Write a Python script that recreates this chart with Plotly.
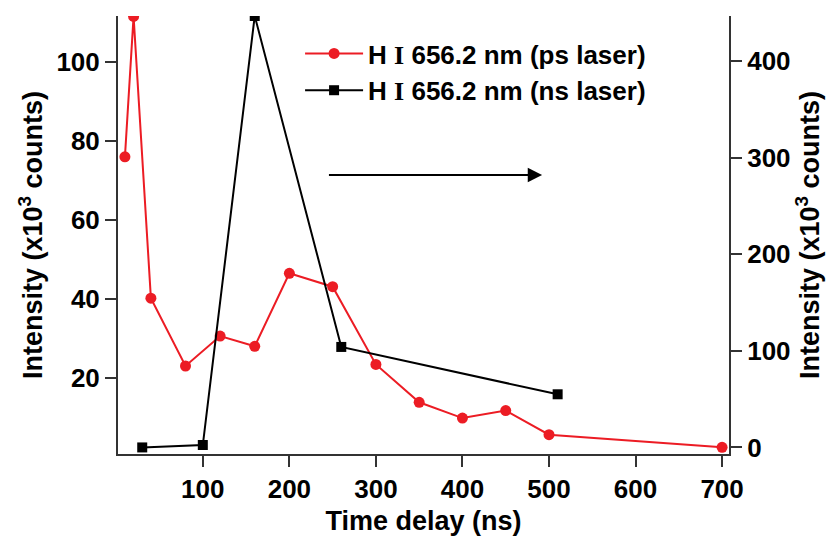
import plotly.graph_objects as go

# Data
ps_delay = [10, 20, 40, 80, 120, 160, 200, 250, 300, 350, 400, 450, 500, 700]
ps_intensity = [76, 111.6, 40.2, 23, 30.6, 28, 46.5, 43.1, 23.4, 13.8, 9.8, 11.7, 5.6, 2.4]

ns_delay = [30, 100, 160, 260, 510]
ns_intensity = [0, 2.5, 446.5, 104, 55]

x_ticks = [100, 200, 300, 400, 500, 600, 700]
y1_ticks = [20, 40, 60, 80, 100]
y2_ticks = [0, 100, 200, 300, 400]

RED = "rgb(236,28,36)"
AXC = "#333333"
FONT = "Liberation Sans"
I_SERIF = "<span style='font-family:Liberation Serif'>I</span>"

fig = go.Figure()
fig.add_trace(go.Scatter(
    x=ps_delay, y=ps_intensity, mode="lines+markers",
    name="H " + I_SERIF + " 656.2 nm (ps laser)",
    line=dict(color=RED, width=2),
    marker=dict(color=RED, size=11, symbol="circle"),
    yaxis="y",
))
fig.add_trace(go.Scatter(
    x=ns_delay, y=ns_intensity, mode="lines+markers",
    name="H " + I_SERIF + " 656.2 nm (ns laser)",
    line=dict(color="black", width=2),
    marker=dict(color="black", size=10, symbol="square"),
    yaxis="y2",
))

# arrow pointing to the right axis
fig.add_annotation(
    x=492, y=71.4, ax=244, ay=71.4,
    xref="x", yref="y", axref="x", ayref="y",
    showarrow=True, arrowhead=2, arrowsize=1.3, arrowwidth=2.2,
    arrowcolor="black", text="",
)

fig.update_layout(
    width=838, height=539,
    margin=dict(l=118, r=109, t=16, b=85),
    paper_bgcolor="white", plot_bgcolor="white",
    font=dict(family=FONT, size=26, color="black", weight="bold"),
    showlegend=True,
    legend=dict(
        x=0.298, y=0.968, xanchor="left", yanchor="top",
        bgcolor="rgba(0,0,0,0)",
        font=dict(family=FONT, size=26, color="black", weight="bold"),
        itemwidth=58, tracegroupgap=0,
    ),
    xaxis=dict(
        range=[2, 708], tickmode="array", tickvals=x_ticks,
        ticks="outside", ticklen=11, tickwidth=1.5, tickcolor=AXC,
        showline=True, linecolor=AXC, linewidth=2,
        showgrid=False, zeroline=False, automargin=False,
        title=dict(text="Time delay (ns)", standoff=8,
                   font=dict(family=FONT, size=27, weight="bold")),
        tickfont=dict(family=FONT, size=26, weight="bold"),
    ),
    yaxis=dict(
        range=[0.7, 111.7], tickmode="array", tickvals=y1_ticks,
        ticks="outside", ticklen=11, tickwidth=1.5, tickcolor=AXC,
        showline=True, linecolor=AXC, linewidth=2,
        showgrid=False, zeroline=False, automargin=False,
        title=dict(text="Intensity (x10<sup>3</sup> counts)", standoff=6,
                   font=dict(family=FONT, size=27, weight="bold")),
        tickfont=dict(family=FONT, size=26, weight="bold"),
    ),
    yaxis2=dict(
        range=[-6.8, 446.5], tickmode="array", tickvals=y2_ticks,
        overlaying="y", side="right",
        ticks="outside", ticklen=11, tickwidth=1.5, tickcolor=AXC,
        showline=True, linecolor=AXC, linewidth=2,
        showgrid=False, zeroline=False, automargin=False,
        title=dict(text="Intensity (x10<sup>3</sup> counts)", standoff=10,
                   font=dict(family=FONT, size=27, weight="bold")),
        tickfont=dict(family=FONT, size=26, weight="bold"),
    ),
)

fig.write_html("out.html")
